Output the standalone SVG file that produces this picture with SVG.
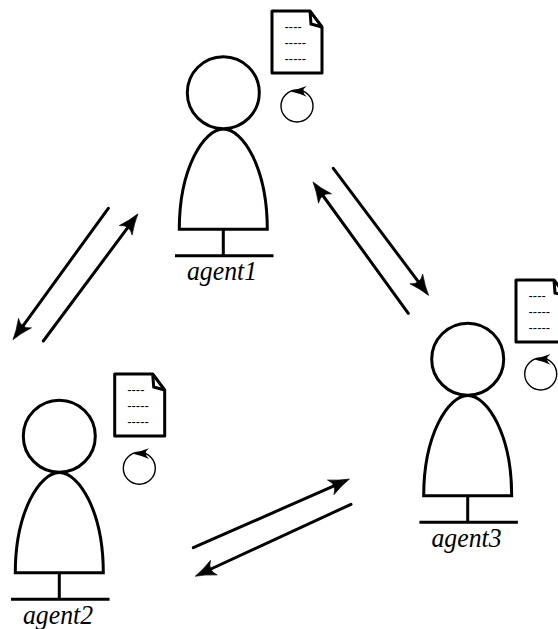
<svg xmlns="http://www.w3.org/2000/svg" width="558" height="629" viewBox="0 0 558 629">
<style>
.s{fill:#fff;stroke:#000;stroke-width:3}
.l{fill:none;stroke:#000;stroke-width:3}
.c{fill:#fff;stroke:#000;stroke-width:1.4}
.a{fill:none;stroke:#000;stroke-width:3;stroke-linecap:round}
.n{font-family:"Liberation Serif",serif;font-style:italic;font-size:27px;text-anchor:middle;fill:#000}
.d{font-family:"Liberation Sans",sans-serif;font-size:13px;fill:#000}
</style>
<defs>
<marker id="ah" markerUnits="userSpaceOnUse" markerWidth="22" markerHeight="18" refX="8" refY="8" orient="auto" overflow="visible">
<path d="M0,0 Q11,5.5 20.5,8 Q11,10.5 0,16 Q7,8 0,0 Z" fill="#000" stroke="#000" stroke-width="0.6"/>
</marker>
<g id="person">
<path class="s" d="M179.3,229.3 C179.3,168 204,129 223.3,129 C243,129 267.3,168 267.3,229.3 Z"/>
<circle class="s" cx="223.3" cy="92.7" r="36"/>
<path class="l" d="M223.3,229.3 V255.7 M175,255.7 H273.5"/>
</g>
<g id="docshape">
<path class="s" stroke-linejoin="round" d="M272,11 H310 L322,27 V73 H272 Z"/>
<path class="l" d="M310,11 L311,24 L322,27"/>
</g>
<g id="loopshape">
<circle class="c" cx="297" cy="106" r="16"/>
<path d="M290.7,91.5 L306.7,86 Q300,91 306.7,96.7 Q298,93 290.7,91.5 Z" fill="#000"/>
</g>
</defs>
<g id="connectors">
<line class="a" x1="108.3" y1="208.3" x2="20.3" y2="329.6" marker-end="url(#ah)"/>
<line class="a" x1="43.3" y1="341" x2="130.5" y2="223.9" marker-end="url(#ah)"/>
<line class="a" x1="333.3" y1="168.3" x2="421.1" y2="285.4" marker-end="url(#ah)"/>
<line class="a" x1="408.3" y1="313.3" x2="320.3" y2="192" marker-end="url(#ah)"/>
<line class="a" x1="193.3" y1="547.7" x2="338" y2="484.1" marker-end="url(#ah)"/>
<line class="a" x1="351" y1="504.3" x2="206.6" y2="571" marker-end="url(#ah)"/>
</g>
<g id="agent1">
<use href="#person"/>
<text class="n" x="222" y="280" textLength="70" lengthAdjust="spacingAndGlyphs">agent1</text>
</g>
<g id="agent2">
<use href="#person" transform="translate(-164,343.5)"/>
<text class="n" x="58" y="623.5" textLength="70" lengthAdjust="spacingAndGlyphs">agent2</text>
</g>
<g id="agent3">
<use href="#person" transform="translate(244.4,266.5)"/>
<text class="n" x="466.5" y="547" textLength="70" lengthAdjust="spacingAndGlyphs">agent3</text>
</g>
<g id="doc1">
<use href="#docshape"/>
<text class="d" x="284.5" y="31">----</text>
<text class="d" x="284.5" y="47">-----</text>
<text class="d" x="284.5" y="63">-----</text>
</g>
<g id="doc2">
<use href="#docshape" transform="translate(-157.3,363)"/>
<text class="d" x="127.2" y="394">----</text>
<text class="d" x="127.2" y="410">-----</text>
<text class="d" x="127.2" y="426">-----</text>
</g>
<g id="doc3">
<use href="#docshape" transform="translate(244,269)"/>
<text class="d" x="528.5" y="300">----</text>
<text class="d" x="528.5" y="316">-----</text>
<text class="d" x="528.5" y="332">-----</text>
</g>
<g id="loop1"><use href="#loopshape"/></g>
<g id="loop2"><use href="#loopshape" transform="translate(-157.7,362.3)"/></g>
<g id="loop3"><use href="#loopshape" transform="translate(243.7,268)"/></g>
</svg>
